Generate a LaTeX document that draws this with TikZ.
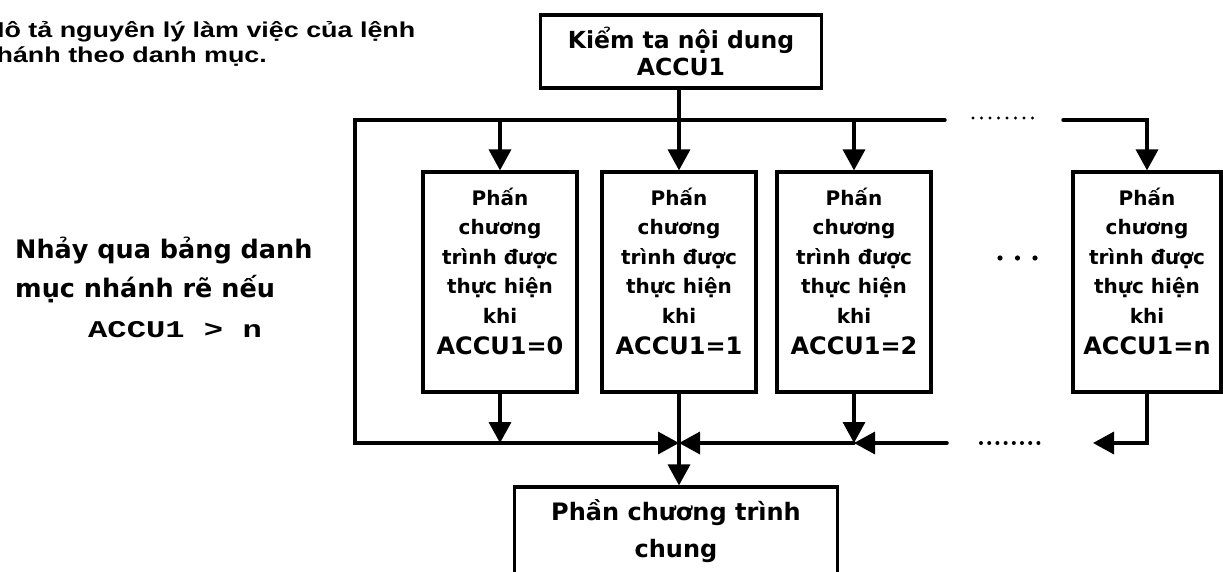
\documentclass[tikz,border=0pt]{standalone}
\usepackage{fontspec}
\usepackage{graphicx}
\setmainfont{DejaVu Sans}
\newfontfamily\capfont{Liberation Sans}
\newfontfamily\codefont{Liberation Mono}
\usetikzlibrary{arrows.meta}

% text of one branch box: width, value of ACCU1
\newcommand\branchtext[2]{\parbox[c][220pt][t]{#1}{\centering
  \fontsize{20}{29.5}\selectfont\rule{0pt}{33pt}Phấn\\chương\\trình được\\thực hiện\\khi\par
  \fontsize{24}{31}\selectfont ACCU1=#2}}

\tikzset{
  wire/.style={line width=3.5pt, line cap=round},
  flow/.style={wire, -{Triangle[width=22pt,length=21pt]}},
  block/.style={draw, line width=3.2pt, inner sep=0pt, font=\bfseries},
  txt/.style={anchor=base west, inner sep=0pt},
  captxt/.style={txt, font=\capfont\bfseries\fontsize{21.5}{25}\selectfont},
  notetxt/.style={txt, font=\bfseries\fontsize{25.5}{30}\selectfont},
  dotmark/.style={fill=black},
}

\begin{document}
\begin{tikzpicture}[x=1pt,y=-1pt]
\useasboundingbox (0,0) rectangle (1223,572);
\clip (0,0) rectangle (1223,572);

% caption (runs past the left edge) and side note
\node[captxt] (cap1) at (-18,38) {\scalebox{1.25}[1]{Mô tả nguyên lý làm việc của lệnh}};
\node[captxt] (cap2) at (-20,63) {\scalebox{1.25}[1]{nhánh theo danh mục.}};
\node[notetxt] (jump1) at (15,258) {Nhảy qua bảng danh};
\node[notetxt] (jump2) at (15,297) {mục nhánh rẽ nếu};
\node[txt, font=\codefont\bfseries\fontsize{24}{28}\selectfont] (jump3) at (88,337)
  {\scalebox{1.34}[1]{ACCU1 > n}};

% blocks
\node[block] (top) at (681,51.5) {\parbox[c][73pt][t]{281pt}{\centering
  \fontsize{23.5}{26.5}\selectfont\rule{0pt}{34pt}Kiểm ta nội dung\\ACCU1}};
\node[block] (b0) at (500,282) {\branchtext{154pt}{0}};
\node[block] (b1) at (679,282) {\branchtext{154pt}{1}};
\node[block] (b2) at (854,282) {\branchtext{154pt}{2}};
\node[block] (bn) at (1147,282) {\branchtext{148pt}{n}};
\node[block] (common) at (676,548.5) {\parbox[c][123pt][t]{323pt}{\centering
  \fontsize{24}{37}\selectfont\rule{0pt}{33pt}Phần chương trình\\chung}};

% junction points
\coordinate (tl) at (355,120);
\coordinate (tr) at (945,120);
\coordinate (ts) at (1063,120);
\coordinate (bl) at (355,443);
\coordinate (m) at (679,443);
\coordinate (rs) at (947,443);
\coordinate (bnr) at (1147,443);
\coordinate (bne) at (1093,443);

% distribution from the test block
\draw[flow] (tr) -- (tl) -- (bl) -- (m);
\draw[flow] (b0.north |- tl) -- (b0.north);
\draw[flow] (top.south -| b1.north) -- (b1.north);
\draw[flow] (b2.north |- tl) -- (b2.north);
\draw[flow] (ts) -- (ts -| bn.north) -- (bn.north);

% collection into the common part
\draw[flow] (b0.south) -- (b0.south |- m);
\draw[flow] (b1.south) -- (b1.south |- common.north);
\draw[flow] (b2.south) -- (b2.south |- m);
\draw[flow] (b2.south |- m) -- (m);
\draw[flow] (rs) -- (b2.south |- m);
\draw[flow] (bn.south) -- (bnr) -- (bne);

% omitted branches
\foreach \i in {0,...,7} \fill[dotmark] (973+\i*8.5,118) circle[radius=1.7pt];
\foreach \i in {0,...,7} \fill[dotmark] (981+\i*8.2,443) circle[radius=2pt];
\foreach \i in {0,1,2} \fill[dotmark] (1000+\i*17.5,258) circle[radius=2.6pt];
\end{tikzpicture}
\end{document}
